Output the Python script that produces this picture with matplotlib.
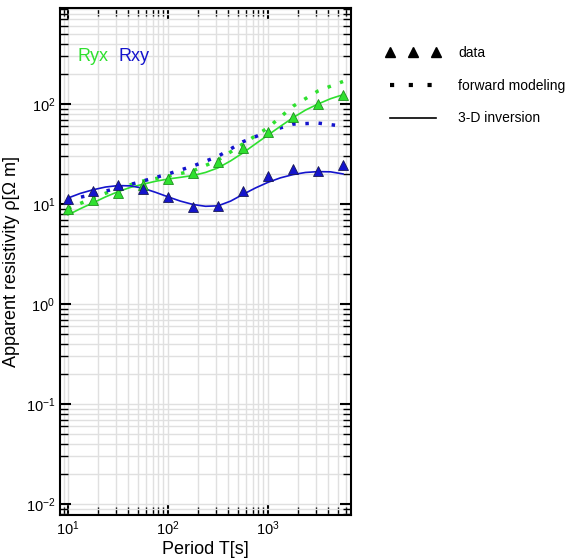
import numpy as np
import matplotlib.pyplot as plt
from matplotlib.lines import Line2D
from matplotlib.ticker import LogLocator, NullFormatter

plt.rcParams['font.family'] = ['Liberation Sans', 'DejaVu Sans']
plt.rcParams['mathtext.fontset'] = 'custom'
plt.rcParams['mathtext.rm'] = 'Liberation Sans'
plt.rcParams['mathtext.default'] = 'regular'

# periods of the data / forward modeling (4 per decade)
period = [10, 17.8, 31.6, 56.2, 100, 178, 316, 562, 1000, 1778, 3162, 5623]

ryx_data = [8.85, 11.0, 13.0, 15.5, 17.9, 20.6, 26.3, 36.6, 52, 73.6, 100.7, 122]
rxy_data = [11.2, 13.6, 15.4, 14.0, 11.7, 9.4, 9.6, 13.6, 19.2, 22.2, 21.2, 24.5]

ryx_fwd = [9.0, 11.5, 14.3, 17.0, 19.0, 21.5, 27.5, 40, 58, 95, 135, 168]
rxy_fwd = [11.0, 12.5, 14.5, 17.0, 20.0, 24.0, 30.0, 42, 53, 63, 64.5, 60]

# inversion response, read at 8 points per decade
period_inv = [10, 13.3, 17.8, 23.7, 31.6, 42.2, 56.2, 75, 100, 133, 178, 237,
              316, 422, 562, 750, 1000, 1334, 1778, 2371, 3162, 4217, 5623]
ryx_inv = [7.8, 9.0, 10.3, 11.8, 13.3, 14.7, 15.8, 16.9, 17.8, 18.5, 19.3, 20.7,
           23, 27, 32.5, 40, 49, 60, 73, 87, 100, 113, 124]
rxy_inv = [11.5, 12.8, 13.9, 14.8, 15.3, 15.2, 14.4, 13.1, 11.8, 10.7, 9.9, 9.5,
           9.6, 10.7, 12.5, 14.5, 16.5, 18.3, 19.7, 20.7, 21.1, 21.0, 20.0]

green = '#2fe02f'
blue = '#1414cc'

fig = plt.figure(figsize=(5.73, 5.58), dpi=100)
ax = fig.add_axes([0.1047, 0.0771, 0.5079, 0.9086])

dots = (0, (1, 2.8))
ax.plot(period, ryx_fwd, color=green, lw=2.5, ls=dots)
ax.plot(period, rxy_fwd, color=blue, lw=2.5, ls=dots)
ax.plot(period_inv, ryx_inv, color=green, lw=1.2)
ax.plot(period_inv, rxy_inv, color=blue, lw=1.2)
ax.plot(period, ryx_data, ls='none', marker='^', ms=7.5, color=green, mec='#1f8f1f', mew=0.6)
ax.plot(period, rxy_data, ls='none', marker='^', ms=7.5, color=blue, mec='#1a1a55', mew=0.6)

ax.set_xscale('log')
ax.set_yscale('log')
ax.set_xlim(8.3, 6760)
ax.set_ylim(0.0078, 912)

for axis in (ax.xaxis, ax.yaxis):
    axis.set_major_locator(LogLocator(base=10, numticks=10))
    axis.set_minor_locator(LogLocator(base=10, subs=np.arange(2, 10), numticks=10))
    axis.set_minor_formatter(NullFormatter())

ax.grid(True, which='both', color='#e0e0e0', lw=1)
ax.set_axisbelow(True)
ax.tick_params(which='both', direction='in', top=True, right=True, labelsize=10.5)
ax.tick_params(which='major', length=8, width=1.5)
ax.tick_params(which='minor', length=6, width=1)
for s in ax.spines.values():
    s.set_linewidth(1.5)

ax.set_xlabel('Period T[s]', fontsize=13, labelpad=2)
ax.set_ylabel('Apparent resistivity ρ[Ω m]', fontsize=13, labelpad=4)

ax.text(0.06, 0.895, 'Ryx', color=green, fontsize=13, transform=ax.transAxes)
ax.text(0.20, 0.895, 'Rxy', color=blue, fontsize=13, transform=ax.transAxes)

handles = [
    Line2D([], [], ls='none', marker='^', ms=7, color='black'),
    Line2D([], [], ls=(0, (1, 3.5)), lw=3, color='black'),
    Line2D([], [], ls='-', lw=1.2, color='black'),
]
fig.legend(handles, ['data', 'forward modeling', '3-D inversion'],
           loc='upper left', bbox_to_anchor=(0.652, 0.94), frameon=False,
           numpoints=3, fontsize=10, handlelength=3.9, handletextpad=1.3,
           labelspacing=1.35)

fig.savefig('out.png', dpi=100)
